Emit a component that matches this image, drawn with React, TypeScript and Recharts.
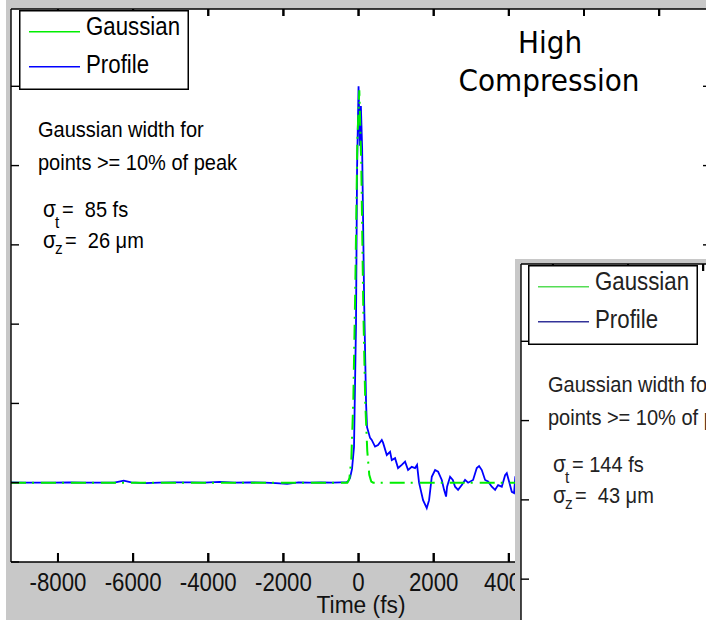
import React from 'react';
import { LineChart, Line, XAxis, YAxis, Legend, Label } from 'recharts';

const SANS = "'Liberation Sans', Arial, Helvetica, sans-serif";
const TITLE_FONT = "'DejaVu Sans Condensed', 'DejaVu Sans', Verdana, sans-serif";

// Axis ticks: time in fs, amplitude normalized to the peak
const timeTicks = [-8000, -6000, -4000, -2000, 0, 2000, 4000, 6000, 8000];
const ampTicks = [-0.2, 0, 0.2, 0.4, 0.6, 0.8, 1.0];
const ampDomain: [number, number] = [-0.2, 1.195];

// High compression shot: Gaussian fit
const gaussTimes = [-9250, -298, -245, -192, -139, -86, -33, 20, 73, 126, 179, 232, 285, 338, 391, 9380];
const gaussValues = [0, 0, 0.01, 0.06, 0.21, 0.5, 0.86, 0.99, 0.8, 0.44, 0.2, 0.08, 0.02, 0.003, 0, 0];

// High compression shot: measured profile
const profileTimes = [
  -9250, -8900, -8500, -8100, -7700, -7300, -6900, -6500, -6250, -6050, -5700, -5300, -4900, -4500,
  -4100, -3700, -3300, -2900, -2500, -2200, -1900, -1600, -1300, -1000, -700, -450, -330, -280,
  -227, -174, -121, -68, -40, 0, 35, 62, 95, 150, 200, 226, 306, 351, 439, 519, 618, 652, 751, 839,
  884, 972, 1051, 1150, 1238, 1318, 1416, 1504, 1557, 1610, 1717, 1815, 1877, 1949, 2037, 2117,
  2215, 2276, 2329, 2356, 2436, 2508, 2569, 2649, 2747, 2835, 2915, 3048, 3146, 3208, 3280, 3368,
  3447, 3546, 3634, 3714, 3812, 3900, 3945, 4006, 4078, 4139, 4170, 4250,
];
const profileValues = [
  0.001, 0, 0, 0, 0.001, 0, 0, 0, 0.005, 0.001, -0.001, 0, 0.001, 0.001,
  0, 0.002, 0, 0.001, 0, -0.001, -0.003, 0.001, 0, 0.001, 0, 0.001, 0.001, 0.003,
  0.012, 0.035, 0.09, 0.4, 0.79, 1.0, 0.85, 0.95, 0.845, 0.45, 0.2, 0.14, 0.113, 0.108, 0.091, 0.095, 0.108, 0.101, 0.07, 0.078,
  0.057, 0.062, 0.037, 0.045, 0.053, 0.032, 0.04, 0.037, 0.045, 0.0, -0.044, -0.064, -0.044, 0.015, 0.032, 0.028,
  0.007, -0.018, -0.035, -0.01, 0.015, 0.007, -0.01, -0.018, -0.006, 0.007, 0, 0.007, 0.037, 0.042, 0.032, 0.007,
  0.003, -0.01, -0.018, -0.006, -0.01, 0.019, 0.024, 0.003, -0.023, -0.026, 0.012, 0.005,
];

// Lower compression shot: leading flat baseline of both traces
const baseTimes2 = [-8850, -6000, -4400];
const gaussValues2 = [0, 0, 0];
const profileValues2 = [0, 0, 0];

const zip = (ts: number[], vs: number[]) => ts.map((t, i) => ({ t, v: vs[i] }));

const CHART_W = 720;
const CHART_H = 620;
const MARGIN = { top: 8, right: 14, bottom: 28, left: 4 };
const BOTTOM_AXIS_H = 30;
// plot frame inside each chart
const PLOT = { left: 5, top: 9, width: CHART_W - 5 - 15, height: CHART_H - 9 - 58 };
const AXIS = '#000';
const AXIS_LINE = { stroke: AXIS, strokeWidth: 1.4 };

// inward time-axis tick marks (9 px at the bottom, 7 px at the top), as broken segments in amplitude units
const ampPerPx = (ampDomain[1] - ampDomain[0]) / PLOT.height;
const timeTickMarks = timeTicks.flatMap((t) => [
  { t, v: ampDomain[0] },
  { t, v: ampDomain[0] + 9 * ampPerPx },
  { t, v: null },
  { t, v: ampDomain[1] },
  { t, v: ampDomain[1] - 7 * ampPerPx },
  { t, v: null },
]);

// Helvetica-like text, horizontally condensed around its anchor point
const NText = (p: { x: number; y: number; size: number; sx?: number; anchor?: string; fill?: string; children: any }) => (
  <text transform={`translate(${p.x} ${p.y}) scale(${p.sx ?? 0.9} 1)`} fontFamily={SANS} fontSize={p.size}
    textAnchor={p.anchor ?? 'start'} fill={p.fill ?? '#000'} style={{ whiteSpace: 'pre' }}>{p.children}</text>
);

// bottom tick: label plus an inward mark
const BottomTick = (props: any) => {
  const x = Number(props.x);
  const y = Number(props.y);
  return (
    <g>
      <rect x={x - 1} y={y - 9} width={2} height={9} fill={AXIS} />
      <NText x={x} y={y + 28.5} size={25} sx={0.89} anchor="middle" fill="#111">{String(props.payload.value)}</NText>
    </g>
  );
};
const TopTick = (props: any) => {
  const x = Number(props.x);
  const y = Number(props.y);
  return <rect x={x - 1} y={y} width={2} height={7} fill={AXIS} />;
};
const LeftTick = (props: any) => {
  const x = Number(props.x);
  const y = Number(props.y);
  return <path d={`M${x},${y}H${x + 8}`} stroke={AXIS} strokeWidth={1.4} fill="none" />;
};
const RightTick = (props: any) => {
  const x = Number(props.x);
  const y = Number(props.y);
  return <path d={`M${x},${y}H${x - 8}`} stroke={AXIS} strokeWidth={1.4} fill="none" />;
};

const TimeLabel = (props: any) => {
  const vb = props.viewBox || {};
  return <NText x={vb.x + vb.width / 2} y={vb.y + vb.height + 21} size={24} sx={0.95} anchor="middle" fill="#111">Time (fs)</NText>;
};

type PanelProps = {
  gauss: { t: number; v: number }[];
  profile: { t: number; v: number }[];
  xDomain: [number, number];
  gaussColor: string;
  profileColor: string;
  textColor: string;
  legendLeft: number;
  sigmaT: string;
  sigmaZ: string;
  title?: boolean;
};

const Panel = (p: PanelProps) => {
  const legendContent = () => (
    <svg width={170} height={80} style={{ display: 'block' }}>
      <rect x={0.75} y={0.75} width={168.5} height={78.5} fill="#fff" stroke="#000" strokeWidth={1.5} />
      <line x1={10} x2={61} y1={21.7} y2={21.7} stroke={p.gaussColor} strokeWidth={1.6} />
      <NText x={67} y={25} size={26.5} sx={0.84} fill={p.textColor}>Gaussian</NText>
      <line x1={10} x2={61} y1={56.7} y2={56.7} stroke={p.profileColor} strokeWidth={1.6} />
      <NText x={67} y={62.7} size={26.5} sx={0.84} fill={p.textColor}>Profile</NText>
    </svg>
  );
  const c = p.textColor;
  return (
    <div style={{ position: 'relative', width: CHART_W, height: CHART_H }}>
      <div style={{ position: 'absolute', left: PLOT.left, top: PLOT.top, width: PLOT.width, height: PLOT.height, background: '#fff' }} />
      <LineChart width={CHART_W} height={CHART_H} margin={MARGIN} style={{ position: 'absolute', left: 0, top: 0 }}>
        <XAxis xAxisId="b" dataKey="t" type="number" domain={p.xDomain} allowDataOverflow ticks={timeTicks}
          interval={0} height={BOTTOM_AXIS_H} tickSize={0} tickMargin={0} tickLine={false}
          axisLine={AXIS_LINE} tick={BottomTick}>
          <Label content={TimeLabel} />
        </XAxis>
        <XAxis xAxisId="t" orientation="top" dataKey="t" type="number" domain={p.xDomain} allowDataOverflow
          ticks={timeTicks} interval={0} height={1} tickSize={0} tickMargin={0} tickLine={false}
          axisLine={AXIS_LINE} tick={TopTick} />
        <YAxis yAxisId="l" type="number" domain={ampDomain} allowDataOverflow ticks={ampTicks} interval={0}
          width={1} tickSize={0} tickMargin={0} tickLine={false} axisLine={AXIS_LINE} tick={LeftTick} />
        <YAxis yAxisId="r" orientation="right" type="number" domain={ampDomain} allowDataOverflow ticks={ampTicks}
          interval={0} width={1} tickSize={0} tickMargin={0} tickLine={false} axisLine={AXIS_LINE} tick={RightTick} />
        <Line xAxisId="b" yAxisId="l" data={timeTickMarks} dataKey="v" name="time ticks" legendType="none"
          type="linear" stroke={AXIS} strokeWidth={2} dot={false} connectNulls={false} isAnimationActive={false} />
        <Line xAxisId="b" yAxisId="l" data={p.profile} dataKey="v" name="Profile" type="linear"
          stroke={p.profileColor} strokeWidth={1.8} dot={false} isAnimationActive={false} />
        <Line xAxisId="b" yAxisId="l" data={p.gauss} dataKey="v" name="Gaussian" type="linear"
          stroke={p.gaussColor} strokeWidth={2} strokeDasharray="15 6 2 7" dot={false} isAnimationActive={false} />
        <Legend layout="vertical" align="center" verticalAlign="middle" content={legendContent}
          wrapperStyle={{ left: p.legendLeft, top: 10, width: 170, height: 80, lineHeight: 0 }} />
      </LineChart>
      <svg width={CHART_W} height={CHART_H} style={{ position: 'absolute', left: 0, top: 0, pointerEvents: 'none' }}>
        <NText x={32} y={137} size={22} sx={0.91} fill={c}>Gaussian width for</NText>
        <NText x={32} y={170} size={22} sx={0.91} fill={c}>points &gt;= 10% of peak</NText>
        <NText x={37} y={217} size={23} sx={0.91} fill={c}>σ</NText>
        <NText x={49} y={228} size={17} sx={0.91} fill={c}>t</NText>
        <NText x={56} y={217} size={22} sx={0.91} fill={c}>{'= ' + p.sigmaT}</NText>
        <NText x={37} y={248} size={23} sx={0.91} fill={c}>σ</NText>
        <NText x={49} y={254} size={17} sx={0.91} fill={c}>z</NText>
        <NText x={59} y={248} size={22} sx={0.91} fill={c}>{'= ' + p.sigmaZ}</NText>
        {p.title && (
          <g fontFamily={TITLE_FONT} fontSize={31} fill="#000" textAnchor="middle" style={{ fontStretch: 'condensed' }}>
            <text x={544} y={53}>High</text>
            <text x={543} y={91}>Compression</text>
          </g>
        )}
      </svg>
    </div>
  );
};

export default function App() {
  return (
    <div style={{ position: 'fixed', left: 0, top: 0, width: 706, height: 620, overflow: 'hidden', background: '#fff' }}>
      <div style={{ position: 'absolute', left: 6, top: 0, width: 700, height: 620, overflow: 'hidden', background: '#c8c8c8' }}>
        <Panel
          gauss={zip(gaussTimes, gaussValues)}
          profile={zip(profileTimes, profileValues)}
          xDomain={[-9250, 9380]}
          gaussColor="#00ee00"
          profileColor="#0000ff"
          textColor="#000"
          legendLeft={13}
          sigmaT=" 85 fs"
          sigmaZ=" 26 μm"
          title
        />
      </div>
      <div style={{ position: 'absolute', left: 515, top: 259, width: 191, height: 361, overflow: 'hidden', background: '#c8c8c8' }}>
        <div style={{ position: 'absolute', left: 1, top: -4 }}>
          <Panel
            gauss={zip(baseTimes2, gaussValues2)}
            profile={zip(baseTimes2, profileValues2)}
            xDomain={[-8850, 9790]}
            gaussColor="#55dd55"
            profileColor="#333399"
            textColor="#222"
            legendLeft={12}
            sigmaT="144 fs"
            sigmaZ=" 43 μm"
          />
        </div>
      </div>
    </div>
  );
}
